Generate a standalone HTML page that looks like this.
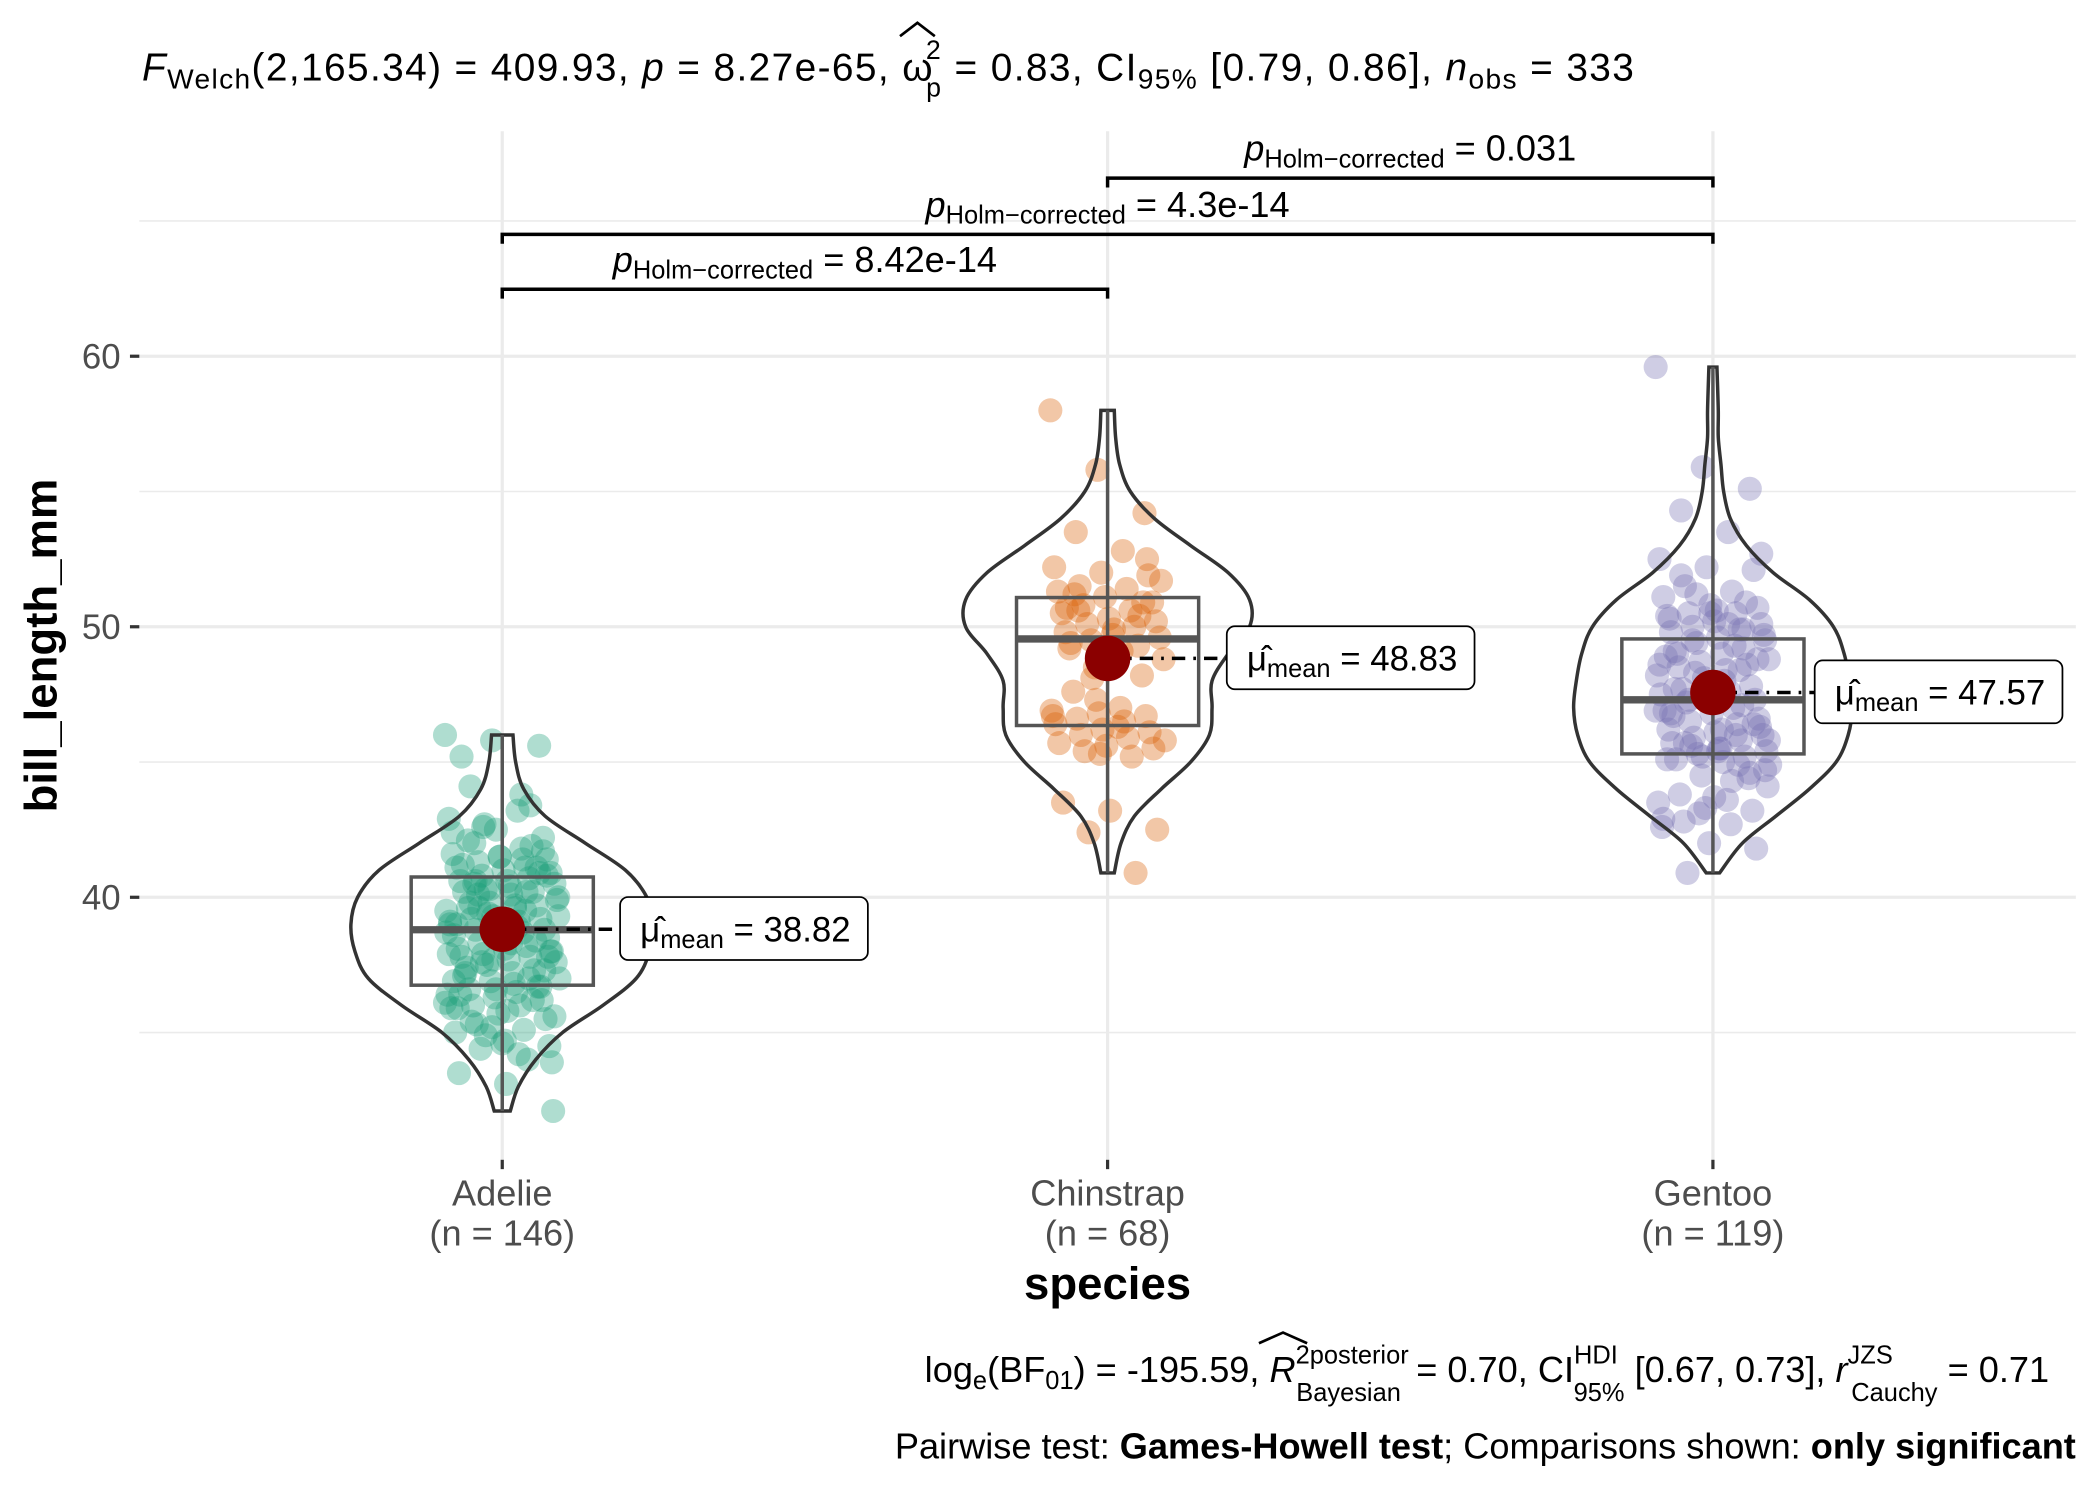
<!DOCTYPE html>
<html><head><meta charset="utf-8">
<style>
html,body{margin:0;padding:0;background:#fff;}
svg{display:block;font-family:"Liberation Sans",sans-serif;}
</style></head>
<body>
<svg id="chart" width="2100" height="1499" viewBox="0 0 1568 1119.3" xmlns="http://www.w3.org/2000/svg">
<g id="grid"></g>
<g id="marks"></g>
<g id="axes"></g>
<text x="106" y="60" font-size="29" fill="#000" textLength="1114"><tspan font-style="italic">F</tspan><tspan font-size="21" dy="6">Welch</tspan><tspan dy="-6">(2,165.34) = 409.93, </tspan><tspan font-style="italic">p</tspan><tspan> = 8.27e-65, ω</tspan><tspan font-size="20" dx="-6" dy="-16">2</tspan><tspan font-size="20" dx="-12" dy="28">p</tspan><tspan dy="-12"> = 0.83, CI</tspan><tspan font-size="21" dy="6">95%</tspan><tspan dy="-6"> [0.79, 0.86], </tspan><tspan font-style="italic">n</tspan><tspan font-size="21" dy="6">obs</tspan><tspan dy="-6"> = 333</tspan></text>
<path d="M672,27 L685,17 L698,27" fill="none" stroke="#000" stroke-width="2"/>
<text transform="translate(42,482) rotate(-90)" text-anchor="middle" font-size="34" font-weight="bold">bill_length_mm</text>
<text x="827" y="970" text-anchor="middle" font-size="34" font-weight="bold">species</text>
<text x="1530" y="1032" text-anchor="end" font-size="27">log<tspan font-size="19" dy="5">e</tspan><tspan dy="-5">(BF</tspan><tspan font-size="19" dy="5">01</tspan><tspan dy="-5">) = -195.59, </tspan><tspan font-style="italic">R</tspan><tspan font-size="19" dy="-14">2posterior</tspan><tspan font-size="19" dx="-84" dy="28">Bayesian</tspan><tspan dy="-14" dx="4"> = 0.70, CI</tspan><tspan font-size="19" dy="-14">HDI</tspan><tspan font-size="19" dx="-33" dy="28">95%</tspan><tspan dy="-14"> [0.67, 0.73], </tspan><tspan font-style="italic">r</tspan><tspan font-size="19" dy="-14">JZS</tspan><tspan font-size="19" dx="-31" dy="28">Cauchy</tspan><tspan dy="-14"> = 0.71</tspan></text>
<path d="M940,1003 L958,995 L976,1003" fill="none" stroke="#000" stroke-width="2"/>
<text x="1550" y="1089" text-anchor="end" font-size="27">Pairwise test: <tspan font-weight="bold">Games-Howell test</tspan>; Comparisons shown: <tspan font-weight="bold">only significant</tspan></text>
</svg>
<script>
const categories = ["Adelie","Chinstrap","Gentoo"];
const counts = [146,68,119];
const means = [38.82,48.83,47.57];
const medians = [38.8,49.55,47.3];
const q1 = [36.75,46.35,45.3];
const q3 = [40.75,51.08,49.55];
const mins = [32.1,40.9,40.9];
const maxs = [46.0,58.0,59.6];
const yTicks = [40,50,60];
const yMinor = [35,45,55,65];
const adelieDensY = [32.1,33,34,35,36,37,38,39,40,41,42,43,44,45,46];
const adelieDensW = [6,12,25,45,75,100,110,113,108,92,62,32,16,10,8];
const chinDensY = [40.9,42,43,44,45,46,47,48,49,50,51,52,53,54,55,56,57,58];
const chinDensW = [5,10,20,40,62,76,78,78,90,106,106,90,62,35,17,9,6,5];
const gentDensY = [40.9,42,43,44,45,46,47,48,49,50,51,52,53,54,55,56,57,58,59.6];
const gentDensW = [5,22,47,72,92,101,104,102,98,90,72,45,25,13,8,6,4,4,3];
const adeliePts = [46,45.8,45.6,44.1,43.2,42.9,42.5,42.2,42,41.8,41.6,41.5,41.4,41.3,41.1,41.1,41,40.9,40.8,40.7,40.6,40.6,40.5,40.3,40.2,40.2,40.1,40,39.8,39.7,39.6,39.6,39.5,39.3,39.2,39.2,39.1,39,38.9,38.8,38.8,38.7,38.6,38.6,38.5,38.3,38.2,38.1,38.1,38,37.9,37.8,37.8,37.7,37.6,37.5,37.3,37.2,37.2,37,36.9,36.7,36.6,36.5,36.4,36.3,36.2,36,36,35.9,35.7,35.5,35.3,35.1,35,34.6,34.5,34.4,34,33.5,33.1,32.1,42.7,41.9,41.2,40.4,39.9,39.4,38.4,37.4,36.8,36.1,35.2,40.9,39.8,38.9,37.9,36.6,41.7,40.5,43.8,42.4,41.5,40.8,40.1,39.5,39,38.5,38,37.6,37,36.4,35.8,35.6,34.9,36.2,37.1,38.3,39.3,40.3,41.1,42.1,39.7,38.7,37.7,36.7,35.4,34.2,39.1,38.6,37.3,40.6,41.4,36.9,38.9,37.8,39.6,40.2,35.9,34.7,33.9,42.6,43.4,45.2];
const chinPts = [58,55.8,54.2,53.5,52.8,52.2,52,51.9,51.5,51.4,51.3,51.1,50.9,50.8,50.6,50.5,50.3,50.2,50.1,50,49.8,49.7,49.6,49.5,49.3,49.2,49,48.8,48.5,48.2,47.6,47,46.9,46.8,46.7,46.6,46.5,46.4,46.2,46.1,46,45.9,45.7,45.6,45.5,45.4,45.2,43.5,43.2,42.5,42.4,40.9,50.7,49.9,51.7,48.1,50.4,49.4,46.3,45.8,47.3,50.9,51.2,49.1,46.7,45.3,52.5,50.6];
const gentPts = [59.6,55.9,55.1,54.3,53.5,52.5,52.2,52.1,51.5,51.3,51.1,50.8,50.7,50.5,50.5,50.4,50.2,50.1,50,49.9,49.8,49.6,49.5,49.4,49.2,49.1,49,48.8,48.7,48.6,48.5,48.4,48.2,48.1,47.8,47.7,47.6,47.5,47.4,47.3,47.2,47,46.9,46.8,46.6,46.5,46.4,46.2,46.1,46,45.9,45.8,45.7,45.5,45.4,45.3,45.2,45.1,45,44.9,44.5,44.4,43.8,43.6,43.5,43.3,43.2,42.8,42.7,42.6,42,41.8,40.9,49.3,48.9,47.9,46.3,45.6,44.9,50.3,50.6,49.7,48.3,47.1,46.7,45.5,44.1,43.1,50.9,49,48,46.9,45.2,44.6,51.9,50.1,48.6,47.5,46.4,45.7,44.3,42.9,50.5,48.8,47.3,46,45.1,43.7,52.7,49.5,48.4,46.8,45.4,44.7,51.2,49.9,47.7,46.2,45.8];
const densY=[adelieDensY,chinDensY,gentDensY], densW=[adelieDensW,chinDensW,gentDensW], pts=[adeliePts,chinPts,gentPts];
const colors=["#1b9e77","#d95f02","#7570b3"];
const pairs=[[0,1,"8.42e-14"],[0,2,"4.3e-14"],[1,2,"0.031"]];
const labelOff=[88,89,76];
const NS="http://www.w3.org/2000/svg";
const y=v=>468-(v-50)*20.2;
const x=i=>375+i*452;
function mk(tag,attrs,parent){const e=document.createElementNS(NS,tag);for(const k in attrs)e.setAttribute(k,attrs[k]);parent.appendChild(e);return e;}
function smooth(P){let d='';for(let k=0;k<P.length-1;k++){const p0=P[Math.max(k-1,0)],p1=P[k],p2=P[k+1],p3=P[Math.min(k+2,P.length-1)];
 const c1=[p1[0]+(p2[0]-p0[0])/6,p1[1]+(p2[1]-p0[1])/6],c2=[p2[0]-(p3[0]-p1[0])/6,p2[1]-(p3[1]-p1[1])/6];
 d+=` C${c1[0]},${c1[1]} ${c2[0]},${c2[1]} ${p2[0]},${p2[1]}`;}return d;}
const grid=document.getElementById('grid'),marks=document.getElementById('marks'),axes=document.getElementById('axes');
yMinor.forEach(v=>{const l=mk('line',{x1:104,x2:1550,y1:y(v),y2:y(v),stroke:'#ebebeb','stroke-width':1.2},grid);

});
yTicks.forEach(v=>{const l=mk('line',{x1:104,x2:1550,y1:y(v),y2:y(v),stroke:'#ebebeb','stroke-width':2.4},grid);


const t=mk('line',{x1:97,x2:104,y1:y(v),y2:y(v),stroke:'#333','stroke-width':2.4},axes);


const tx=mk('text',{x:90,y:y(v)+9,'text-anchor':'end','font-size':26,fill:'#4d4d4d'},axes);tx.textContent=v;

});
categories.forEach((c,i)=>{
 const g=mk('line',{x1:x(i),x2:x(i),y1:98,y2:866,stroke:'#ebebeb','stroke-width':2.4},grid);
 
 
 const t=mk('line',{x1:x(i),x2:x(i),y1:866,y2:873,stroke:'#333','stroke-width':2.4},axes);
 
 
 const l=mk('text',{x:x(i),y:900,'text-anchor':'middle','font-size':27,fill:'#4d4d4d'},axes);l.textContent=c;
 
 
 const n=mk('text',{x:x(i),y:930,'text-anchor':'middle','font-size':27,fill:'#4d4d4d'},axes);n.textContent='(n = '+counts[i]+')';
 
 
 pts[i].forEach((v,j)=>{const off=((j*37)%91-45)*0.95;
  const p=mk('circle',{cx:x(i)+off,cy:y(v),r:9,fill:colors[i],'fill-opacity':0.35},marks);
  
  });
 const dy=densY[i],dw=densW[i];
 const R=dy.map((v,k)=>[x(i)+dw[k],y(v)]), L=dy.map((v,k)=>[x(i)-dw[k],y(v)]).reverse();
 let d='M'+R[0].join(',')+smooth(R)+' L'+L[0].join(',')+smooth(L)+'Z';
 const vi=mk('path',{d:d,fill:'none',stroke:'#333','stroke-width':2.6},marks);
 
 
 const w1=mk('line',{x1:x(i),x2:x(i),y1:y(maxs[i]),y2:y(mins[i]),stroke:'#555','stroke-width':2.6},marks);
 
 
 const b=mk('rect',{x:x(i)-68,y:y(q3[i]),width:136,height:y(q1[i])-y(q3[i]),fill:'none',stroke:'#555','stroke-width':2.6},marks);
 
 
 const md=mk('line',{x1:x(i)-68,x2:x(i)+68,y1:y(medians[i]),y2:y(medians[i]),stroke:'#555','stroke-width':5.5},marks);
 
 
 const my=y(means[i]),lo=labelOff[i];
 const dl=mk('line',{x1:x(i),x2:x(i)+lo,y1:my,y2:my,stroke:'#000','stroke-width':2.6,'stroke-dasharray':'10,6,2,6'},marks);
 
 
 const mc=mk('circle',{cx:x(i),cy:my,r:17,fill:'#8b0000'},marks);
 
 
 const lb=mk('rect',{x:x(i)+lo,y:my-24,width:185,height:47,rx:6,fill:'#fff',stroke:'#000','stroke-width':1.3},marks);
 
 
 const lt=mk('text',{x:x(i)+lo+15,y:my+9,'font-size':26},marks);
 lt.innerHTML='μ̂<tspan font-size="19" dy="5">mean</tspan><tspan dy="-5"> = '+means[i].toFixed(2)+'</tspan>';
 
 
});
const bracketY=[216,175,133];
pairs.forEach((p,k)=>{const by=bracketY[k],x1=x(p[0]),x2=x(p[1]);
 const br=mk('path',{d:`M${x1},${by+7} V${by} H${x2} V${by+7}`,fill:'none',stroke:'#000','stroke-width':2.6},marks);
 
 
 const t=mk('text',{x:(x1+x2)/2,y:by-13,'text-anchor':'middle','font-size':27},marks);
 t.innerHTML='<tspan font-style="italic">p</tspan><tspan font-size="19" dy="5">Holm−corrected</tspan><tspan dy="-5"> = '+p[2]+'</tspan>';
 
 
});
</script>
</body></html>
